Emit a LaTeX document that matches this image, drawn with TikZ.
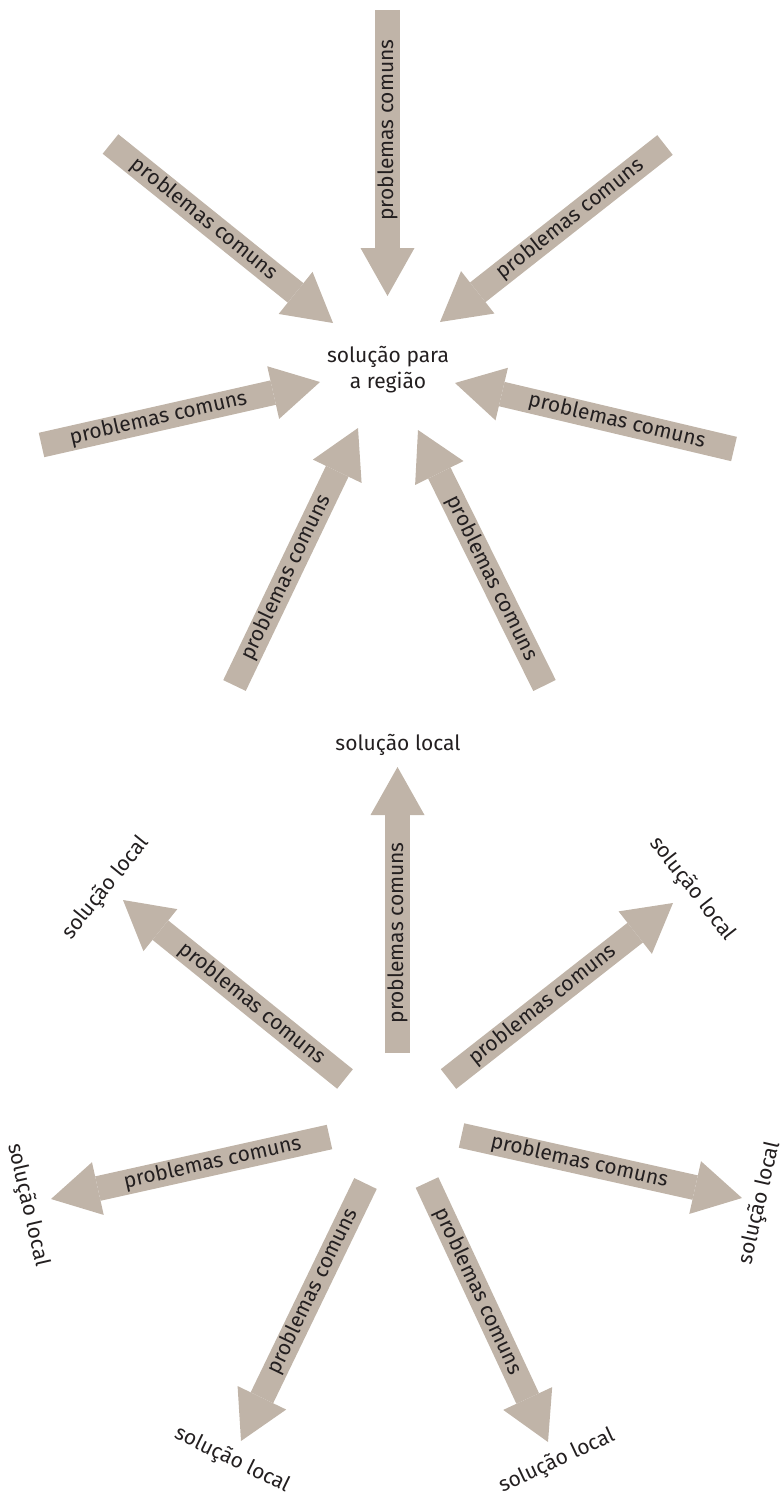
\documentclass[tikz,border=0pt]{standalone}
\usepackage{fontspec}
\setmainfont{Fira Sans}
\usetikzlibrary{arrows.meta}

\definecolor{shaft}{RGB}{192,180,168}
\definecolor{ink}{RGB}{35,31,32}

\tikzset{
	problema/.style={draw=shaft, line width=25pt, -{Triangle[width=54pt,length=48pt,line width=0pt]}},
	rotulo/.style={text=ink, inner sep=0pt, font=\fontsize{21}{26}\selectfont},
	noeixo/.style={rotulo, pos=0.42},
}

\begin{document}
\begin{tikzpicture}[x=1pt,y=-1pt]
			\useasboundingbox (0,0) rectangle (779,1493);

			% solucao para a regiao
			\node (regiao) [rotulo, align=center] at (388,370) {solução para\\a região};
			\coordinate (a1) at (387.5,10);    \coordinate (r1) at (387.5,296);
			\coordinate (a2) at (110.5,144);   \coordinate (r2) at (333,323);
			\coordinate (a3) at (665,145);     \coordinate (r3) at (440,322);
			\coordinate (a4) at (41.5,445);    \coordinate (r4) at (320,382);
			\coordinate (a5) at (734,449);     \coordinate (r5) at (455,383);
			\coordinate (a6) at (234.5,685.5); \coordinate (r6) at (358,428);
			\coordinate (a7) at (544.5,685.5); \coordinate (r7) at (418,430);

			\path (a1) edge [problema] node [noeixo, rotate=90] {problemas comuns} (r1);
			\path (a2) edge [problema] node [noeixo, sloped] {problemas comuns} (r2);
			\path (a3) edge [problema] node [noeixo, sloped] {problemas comuns} (r3);
			\path (a4) edge [problema] node [noeixo, sloped] {problemas comuns} (r4);
			\path (a5) edge [problema] node [noeixo, sloped] {problemas comuns} (r5);
			\path (a6) edge [problema] node [noeixo, sloped] {problemas comuns} (r6);
			\path (a7) edge [problema] node [noeixo, sloped] {problemas comuns} (r7);

			% solucoes locais
			\node (l1) [rotulo] at (398,745) {solução local};
			\node (l2) [rotulo, rotate=51] at (106,888) {solução local};
			\node (l3) [rotulo, rotate=-52] at (692,889) {solução local};
			\node (l4) [rotulo, rotate=-77] at (28,1205) {solução local};
			\node (l5) [rotulo, rotate=77] at (760,1203) {solução local};
			\node (l6) [rotulo, rotate=-26] at (232,1460) {solução local};
			\node (l7) [rotulo, rotate=25] at (557,1461) {solução local};
			\coordinate (b1) at (397.5,1053);   \coordinate (s1) at (397.5,767);
			\coordinate (b2) at (345,1079);     \coordinate (s2) at (123,900);
			\coordinate (b3) at (448.5,1079);   \coordinate (s3) at (673,903);
			\coordinate (b4) at (329.5,1137);   \coordinate (s4) at (51,1199);
			\coordinate (b5) at (461.5,1135.5); \coordinate (s5) at (742,1198);
			\coordinate (b6) at (365.5,1183.5); \coordinate (s6) at (241,1441);
			\coordinate (b7) at (427,1182.5);   \coordinate (s7) at (548,1442);

			\path (b1) edge [problema] node [noeixo, rotate=90] {problemas comuns} (s1);
			\path (b2) edge [problema] node [noeixo, sloped] {problemas comuns} (s2);
			\path (b3) edge [problema] node [noeixo, sloped] {problemas comuns} (s3);
			\path (b4) edge [problema] node [noeixo, sloped] {problemas comuns} (s4);
			\path (b5) edge [problema] node [noeixo, sloped] {problemas comuns} (s5);
			\path (b6) edge [problema] node [noeixo, sloped] {problemas comuns} (s6);
			\path (b7) edge [problema] node [noeixo, sloped] {problemas comuns} (s7);
\end{tikzpicture}
\end{document}
